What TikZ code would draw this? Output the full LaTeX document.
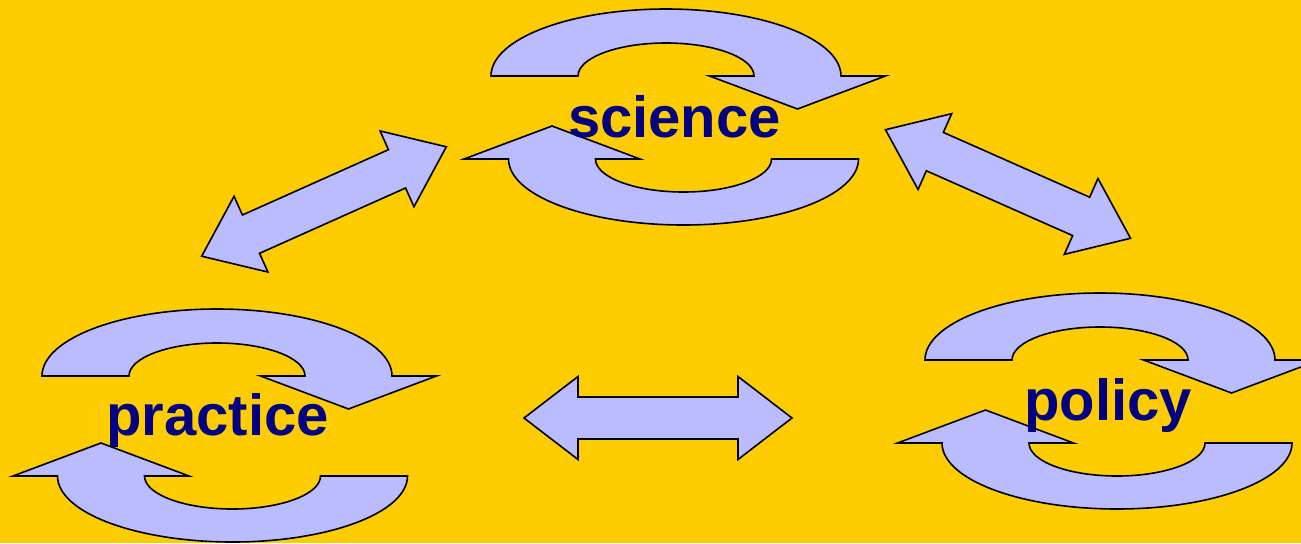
\documentclass[tikz,border=0pt]{standalone}
\usepackage{fontspec}
\setmainfont{Liberation Sans}
\definecolor{bgc}{HTML}{FFCC00}
\definecolor{arrfill}{HTML}{BBBBFF}
\definecolor{txtc}{HTML}{000080}
\newcommand\topcurl[2]{% #1 centre x, #2 base y
  \path[arr] (#1-175,#2) arc[start angle=180,end angle=0,x radius=175,y radius=67]
    -- (#1+219.5,#2) -- (#1+131.5,#2-33) -- (#1+43.5,#2) -- (#1+88,#2)
    arc[start angle=0,end angle=180,x radius=88,y radius=33] -- cycle;}
\newcommand\botcurl[2]{%
  \path[arr] (#1+175,#2) arc[start angle=0,end angle=-180,x radius=175,y radius=66]
    -- (#1-219.5,#2) -- (#1-131.5,#2+33) -- (#1-43.5,#2) -- (#1-88,#2)
    arc[start angle=180,end angle=360,x radius=88,y radius=33] -- cycle;}
\newcommand\dblarrow[3]{% centre x, centre y, angle
  \begin{scope}[shift={(#1,#2)},rotate=#3]
  \path[arr] (-134,0) -- (-80,41.5) -- (-80,21) -- (80,21) -- (80,41.5) -- (134,0)
    -- (80,-41.5) -- (80,-21) -- (-80,-21) -- (-80,-41.5) -- cycle;
  \end{scope}}
\begin{document}
\begin{tikzpicture}[x=0.5pt,y=0.5pt,
  arr/.style={draw=black,fill=arrfill,line width=0.8pt,line join=miter},
  lbl/.style={text=txtc,anchor=base,inner sep=0pt,font=\fontsize{29}{35}\selectfont\bfseries}]
\fill[bgc] (0,0) rectangle (1301,543);
\useasboundingbox (0,0) rectangle (1301,543);
% science cycle
\topcurl{666}{467}
\botcurl{683.5}{384}
% practice cycle
\topcurl{217}{167}
\botcurl{232.5}{67}
% policy cycle
\topcurl{1100}{183}
\botcurl{1117}{100}
% double arrows
\dblarrow{324}{341.5}{24.1}
\dblarrow{1008}{359}{-23.9}
\dblarrow{658}{125}{0}
% labels
\node[lbl] (science) at (674.5,406) {science};
\node[lbl] (practice) at (217.5,108) {practice};
\node[lbl] (policy) at (1108,123) {policy};
\end{tikzpicture}
\end{document}
